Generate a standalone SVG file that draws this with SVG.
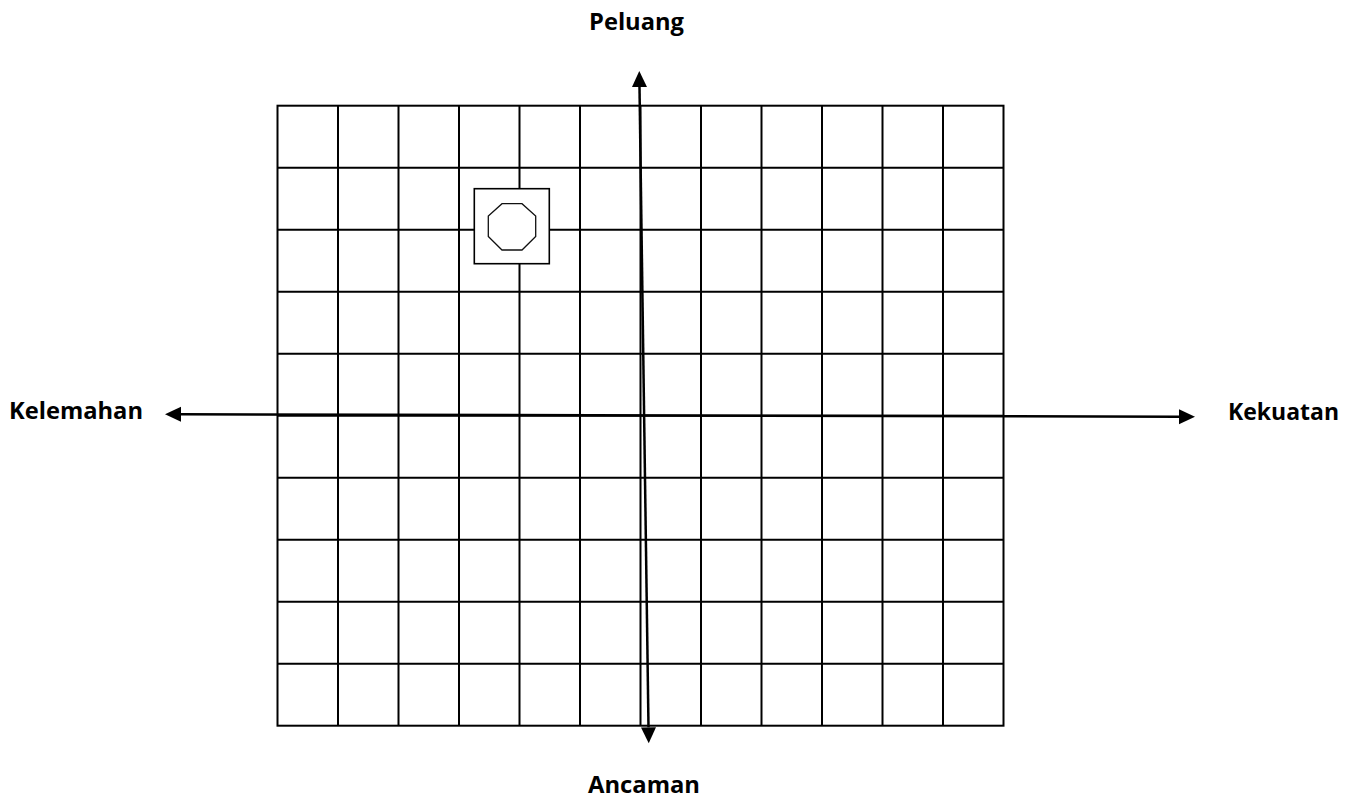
<svg xmlns="http://www.w3.org/2000/svg" width="1359" height="798" viewBox="0 0 1359 798">
<style>
.grid{stroke:#000;stroke-width:2;fill:none}
.axis{stroke:#000;stroke-width:2.5;fill:none}
.lbl{font-family:"Open Sans","Liberation Sans",sans-serif;font-weight:bold;font-size:24px;fill:#000}
</style>
<defs>
<marker id="arr" markerUnits="userSpaceOnUse" markerWidth="17" markerHeight="16" refX="0" refY="7.5" orient="auto-start-reverse" overflow="visible">
<path d="M0,0 L16,7.5 L0,15 Z" fill="#000"/>
</marker>
</defs>
<rect width="1359" height="798" fill="#fff"/>
<g id="grid" class="grid">
<rect x="277.5" y="105.7" width="726" height="620"/>
<path d="M338,105.7V725.7M398.5,105.7V725.7M459,105.7V725.7M519.5,105.7V725.7M580,105.7V725.7M640.5,105.7V725.7M701,105.7V725.7M761.5,105.7V725.7M822,105.7V725.7M882.5,105.7V725.7M943,105.7V725.7"/>
<path d="M277.5,167.7H1003.5M277.5,229.7H1003.5M277.5,291.7H1003.5M277.5,353.7H1003.5M277.5,415.7H1003.5M277.5,477.7H1003.5M277.5,539.7H1003.5M277.5,601.7H1003.5M277.5,663.7H1003.5"/>
</g>
<g id="marker-node">
<rect x="474.3" y="188.7" width="75" height="75" fill="#fff" stroke="#000" stroke-width="1.6"/>
<polygon points="502,203.7 522,203.7 535.7,216 535.7,236.5 522,250 502,250 488.3,236.5 488.3,216" fill="#fff" stroke="#111" stroke-width="1.3"/>
</g>
<g id="connectors">
<line class="axis" x1="639.5" y1="87" x2="648.5" y2="727.3" marker-start="url(#arr)" marker-end="url(#arr)"/>
<line class="axis" x1="181" y1="414.35" x2="1179" y2="416.65" marker-start="url(#arr)" marker-end="url(#arr)"/>
</g>
<g id="label-peluang"><text class="lbl" x="589" y="30" textLength="95" lengthAdjust="spacingAndGlyphs">Peluang</text></g>
<g id="label-kelemahan"><text class="lbl" x="9" y="419" textLength="134" lengthAdjust="spacingAndGlyphs">Kelemahan</text></g>
<g id="label-kekuatan"><text class="lbl" x="1228" y="420" textLength="111" lengthAdjust="spacingAndGlyphs">Kekuatan</text></g>
<g id="label-ancaman"><text class="lbl" x="588" y="793" textLength="112" lengthAdjust="spacingAndGlyphs">Ancaman</text></g>
</svg>
